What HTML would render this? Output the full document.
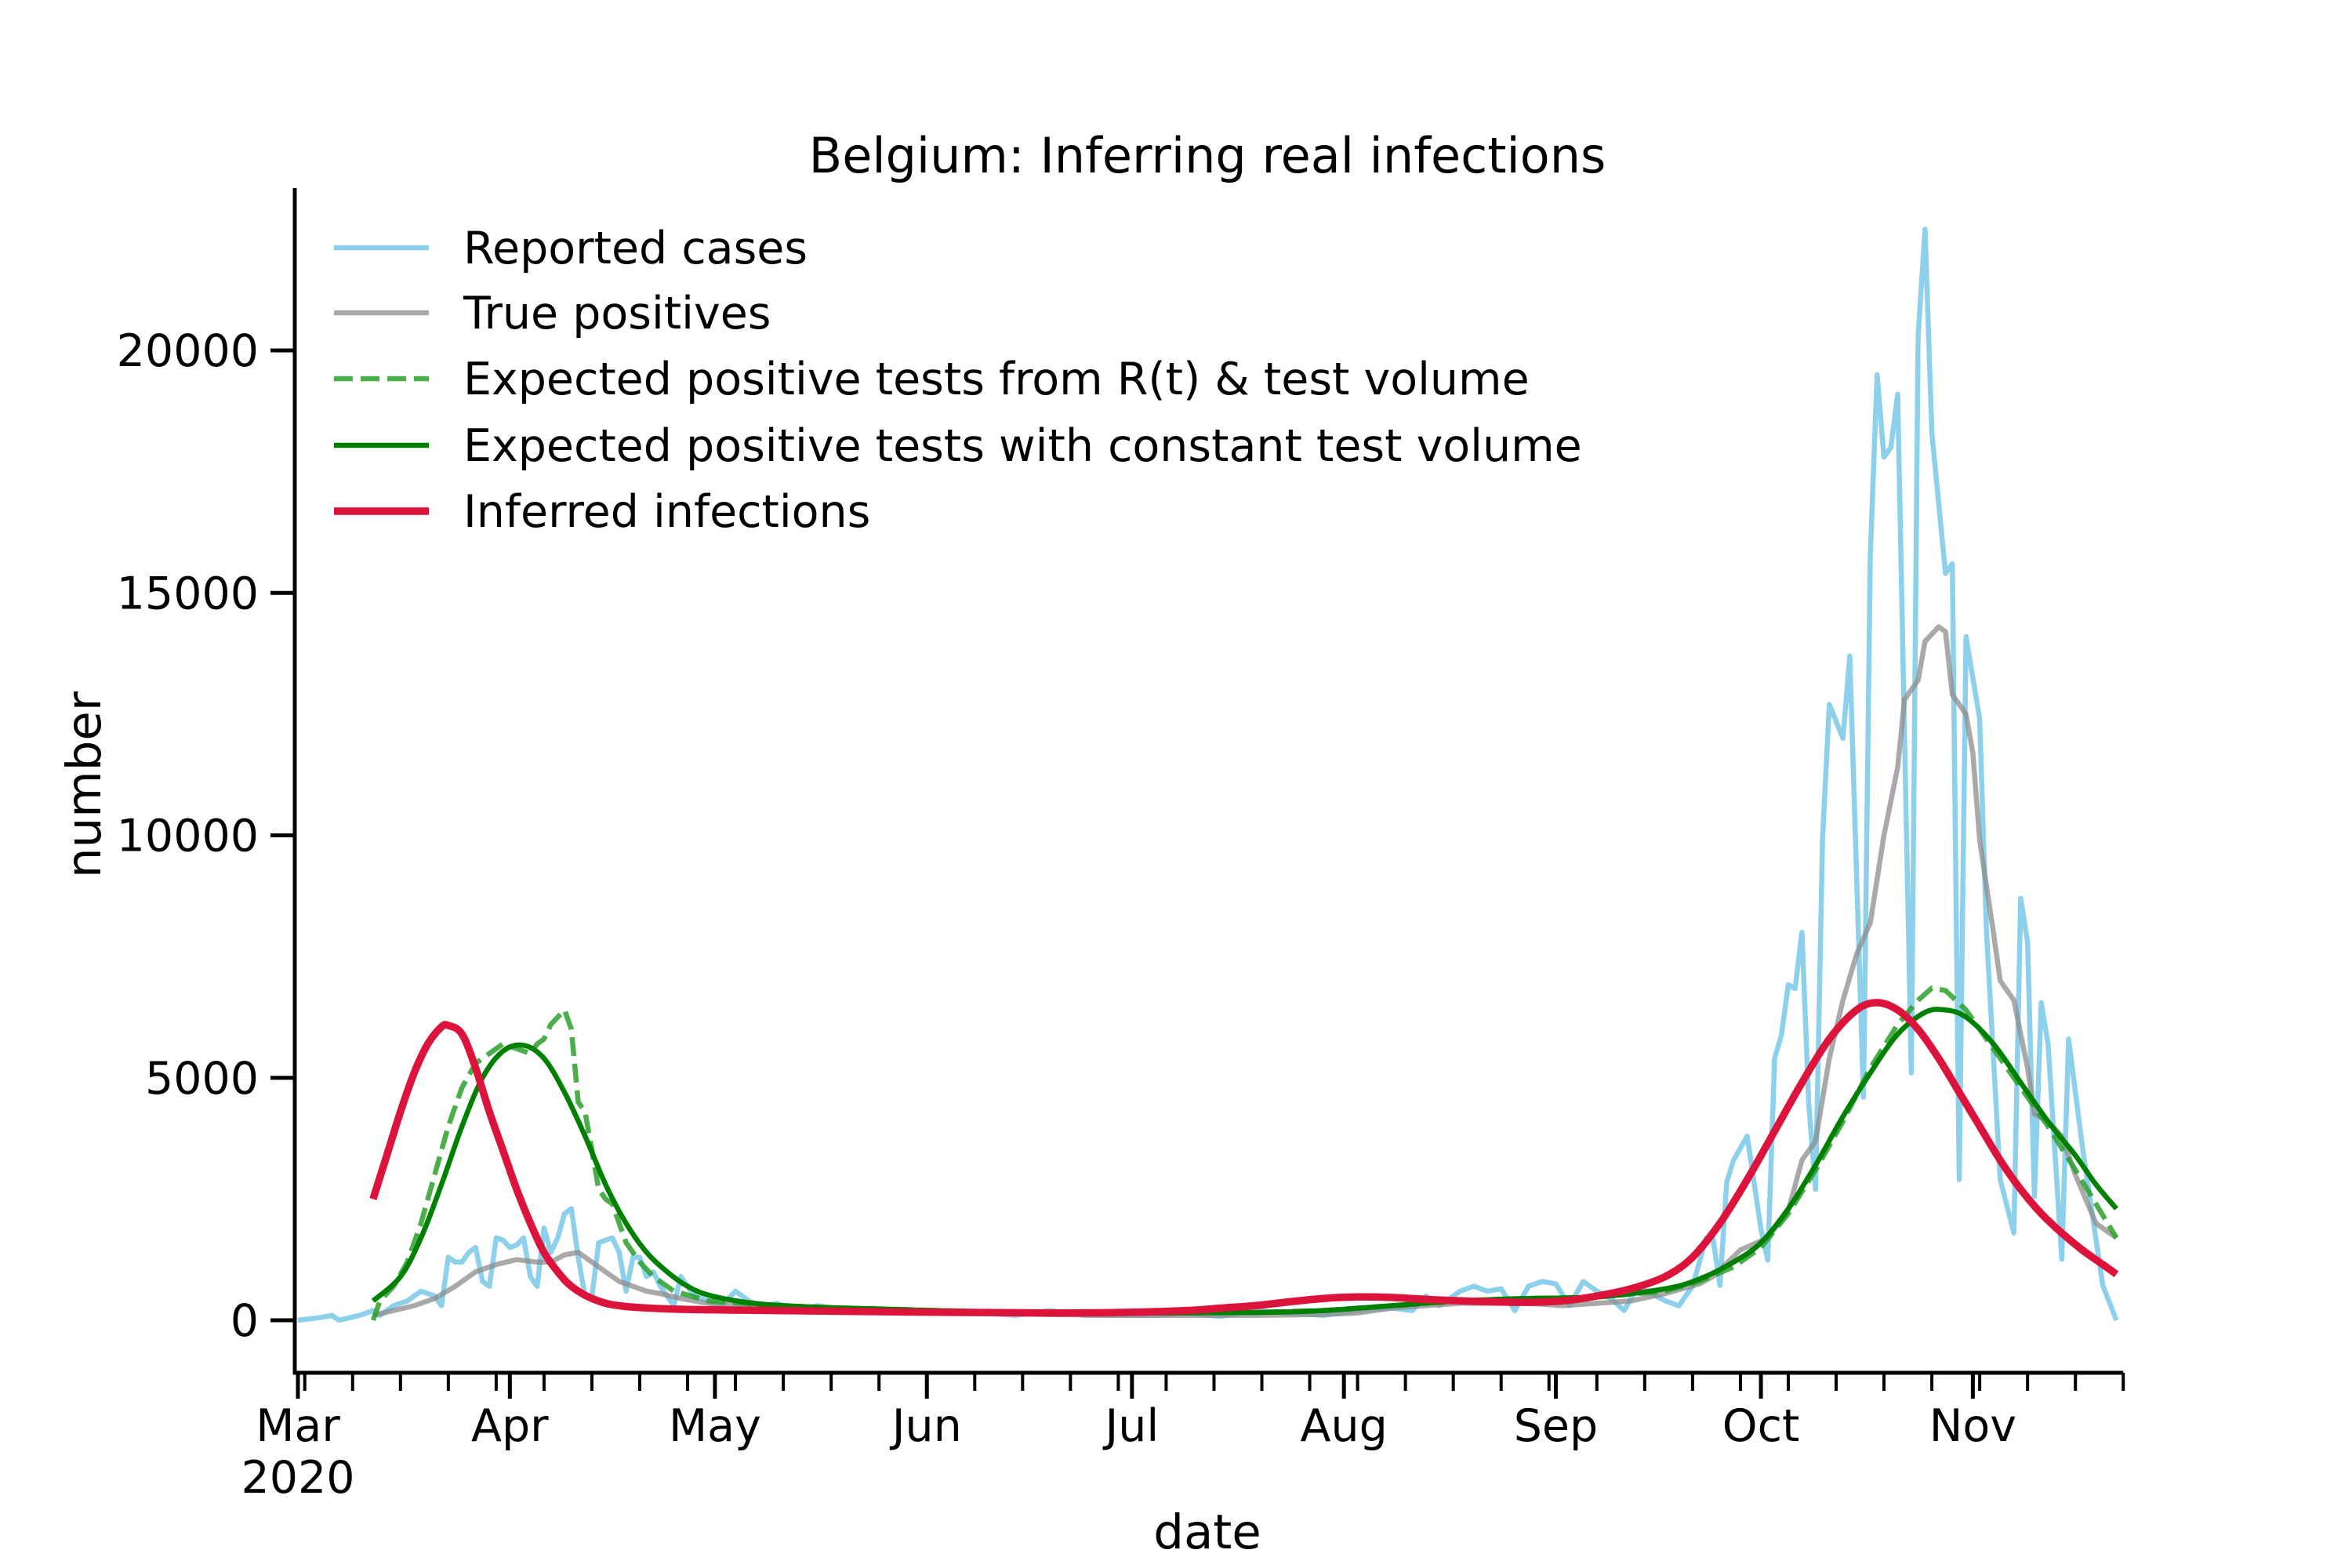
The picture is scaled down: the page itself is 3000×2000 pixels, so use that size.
<!DOCTYPE html>
<html><head><meta charset="utf-8"><style>
html,body{margin:0;padding:0;background:#fff;}
svg{display:block;font-family:"DejaVu Sans","Liberation Sans",sans-serif;}
</style></head><body>
<svg id="chart" width="3000" height="2000" viewBox="0 0 3000 2000" xmlns="http://www.w3.org/2000/svg">
<rect width="3000" height="2000" fill="#fff"/>
<text x="1540" y="220" font-size="62" text-anchor="middle">Belgium: Inferring real infections</text>
<g id="plot"></g>
<g id="axes"></g>
<text x="0" y="0" font-size="61" text-anchor="middle" transform="translate(128,1001) rotate(-90)">number</text>
<text x="1540" y="1975" font-size="61" text-anchor="middle">date</text>
<g id="legend"></g>
</svg>
<script>
// ---- data (day index: 0 = 1 Mar 2020) ----
const reportedDays = [0,3,5,6,9,11,12,14,16,18,20,21,22,23,24,25,26,27,28,29,30,31,32,33,34,35,36,37,38,39,40,41,42,43,44,45,46,47,48,49,50,51,52,53,54,55,56,57,58,60,62,64,66,68,70,73,76,80,84,88,92,96,100,105,110,115,120,125,130,135,140,145,150,155,160,163,165,167,170,172,174,176,178,180,182,184,186,188,190,192,194,196,198,200,202,204,206,207,208,209,210,212,214,215,216,217,218,219,220,221,222,223,224,226,227,229,230,231,232,233,234,236,237,238,239,241,242,243,244,246,247,249,251,252,253,254,255,256,258,259,261,264,266];
const reportedVals = [0,50,100,0,100,200,100,300,400,600,500,300,1300,1200,1200,1400,1500,800,700,1700,1650,1500,1550,1700,900,700,1900,1400,1700,2200,2300,1300,500,500,1600,1650,1700,1400,600,1300,1300,900,1000,700,500,300,900,700,500,400,300,600,400,250,350,200,300,200,250,150,200,150,150,100,200,100,100,100,150,80,200,150,100,200,250,200,500,300,600,700,600,650,200,700,800,750,300,800,600,450,200,700,550,400,300,700,1700,1680,720,2850,3300,3800,1880,1240,5400,5880,6920,6840,8000,4460,2700,9900,12700,12000,13700,4600,15800,19500,17800,18000,19100,5100,20300,22500,18300,15400,15600,2900,14100,12400,8000,2900,1800,8700,7800,2550,6550,5700,1260,5800,3600,720,0];
const trueDays = [11,14,17,20,23,26,29,32,35,37,39,41,43,45,47,49,51,53,56,60,65,70,80,90,100,110,120,130,140,150,155,160,165,170,175,180,185,190,195,200,205,207,211,215,218,220,222,224,226,228,230,232,234,235,237,238,240,241,242,244,245,246,248,249,251,253,254,256,258,260,263,266];
const trueVals = [100,200,300,450,700,1000,1150,1250,1200,1200,1350,1400,1200,1000,800,700,600,550,450,350,300,250,200,180,150,120,100,100,100,120,150,250,300,350,350,350,300,350,400,550,750,900,1450,1700,2260,3300,3700,5400,6600,7550,8200,10000,11400,12800,13200,14000,14300,14200,12900,12500,11700,9900,8000,7000,6600,5200,4260,4100,3800,3000,2000,1700];
const dashedDays = [11,12,14,16,18,20,22,24,26,28,30,32,34,35,36,37,39,40,41,42,43,44,45,46,47,48,50,52,55,60,70,80,100,120,140,150,160,170,180,190,200,205,210,214,218,222,226,230,234,237,239,241,244,248,252,256,260,263,266];
const dashedVals = [0,400,700,1200,2000,3000,4000,4800,5300,5500,5700,5600,5500,5700,5800,6100,6400,6000,4500,4300,3500,2700,2500,2400,2000,1600,1200,900,600,400,300,250,180,150,160,200,300,400,450,480,600,800,1100,1500,2200,3100,4100,5200,6100,6600,6850,6800,6400,5600,4800,4000,3100,2400,1700];
const constDays = [11,15,18,21,24,27,30,33,36,39,42,45,48,51,54,57,60,65,70,80,100,120,140,150,160,170,180,190,200,205,210,214,218,222,226,230,234,238,241,244,248,252,256,260,263,266];
const constVals = [400,900,1700,2800,4000,5000,5550,5670,5400,4700,3800,2800,2000,1400,1000,700,520,380,310,250,180,150,160,200,300,400,450,480,650,850,1200,1600,2300,3200,4200,5100,5900,6350,6400,6250,5700,4900,4100,3400,2800,2300];
const inferredDays = [11,13,15,17,19,21,22,24,26,28,30,32,34,36,38,40,43,47,55,70,90,110,120,130,135,140,145,150,155,160,165,170,175,180,185,190,195,200,204,208,212,216,220,224,228,231,234,237,240,243,246,249,252,255,258,261,264,266];
const inferredVals = [2500,3400,4300,5100,5700,6050,6080,5900,5200,4300,3500,2700,2000,1400,1000,700,450,300,230,200,170,150,160,200,250,300,380,450,480,470,430,400,380,370,400,500,650,900,1300,2000,2900,3900,4900,5800,6400,6550,6400,6000,5400,4700,4000,3300,2700,2200,1800,1450,1150,950];
const yTicks = [0,5000,10000,15000,20000];
const monthStarts = [0,31,61,92,122,153,184,214,245];
const monthLabels = ["Mar","Apr","May","Jun","Jul","Aug","Sep","Oct","Nov"];
const legendLabels = ["Reported cases","True positives","Expected positive tests from R(t) & test volume","Expected positive tests with constant test volume","Inferred infections"];

const NS="http://www.w3.org/2000/svg";
const X0=380, PXD=8.72, XMAX=267;
const Y0=1684, PXV=(1684-447)/20000;
const xs=d=>X0+d*PXD;
const ys=v=>Y0-v*PXV;
const L=376, R=xs(XMAX), T=240, B=1751;
function mk(tag,parent){const e=document.createElementNS(NS,tag);parent.appendChild(e);return e;}
const plot=document.getElementById('plot'), axes=document.getElementById('axes'), legend=document.getElementById('legend');

function pathFor(days,vals,smooth){
  const P=days.map((d,i)=>[xs(d),ys(vals[i])]);
  if(!smooth) return P.map((p,i)=>(i?'L':'M')+p[0].toFixed(1)+','+p[1].toFixed(1)).join('');
  let s='M'+P[0][0].toFixed(1)+','+P[0][1].toFixed(1);
  for(let i=0;i<P.length-1;i++){
    const p0=P[Math.max(0,i-1)],p1=P[i],p2=P[i+1],p3=P[Math.min(P.length-1,i+2)];
    const c1=[p1[0]+(p2[0]-p0[0])/6,p1[1]+(p2[1]-p0[1])/6];
    const c2=[p2[0]-(p3[0]-p1[0])/6,p2[1]-(p3[1]-p1[1])/6];
    s+='C'+c1[0].toFixed(1)+','+c1[1].toFixed(1)+' '+c2[0].toFixed(1)+','+c2[1].toFixed(1)+' '+p2[0].toFixed(1)+','+p2[1].toFixed(1);
  }
  return s;
}
function series(days,vals,color,w,opacity,dash,name,smooth){
  const p=mk('path',plot);
  
  
  p.setAttribute('d',pathFor(days,vals,smooth));
  p.setAttribute('fill','none');p.setAttribute('stroke',color);p.setAttribute('stroke-width',w);
  p.setAttribute('stroke-opacity',opacity);p.setAttribute('stroke-linejoin','round');
  if(dash)p.setAttribute('stroke-dasharray',dash);
}
series(reportedDays,reportedVals,'#87CEEB',6.5,0.95,null,'reported-cases-line',false);
series(trueDays,trueVals,'#8c8c8c',6.5,0.75,null,'true-positives-line',false);
series(dashedDays,dashedVals,'#2ca02c',6.5,0.85,'24,10','expected-tests-rt-line',false);
series(constDays,constVals,'#008000',6.5,1,null,'expected-tests-constant-line',true);
series(inferredDays,inferredVals,'#DC143C',9.5,1,null,'inferred-infections-line',true);

const ls=mk('line',axes);


ls.setAttribute('x1',L);ls.setAttribute('y1',T);ls.setAttribute('x2',L);ls.setAttribute('y2',B+2);ls.setAttribute('stroke','#000');ls.setAttribute('stroke-width',5);
const bs=mk('line',axes);


bs.setAttribute('x1',L-2);bs.setAttribute('y1',B);bs.setAttribute('x2',R);bs.setAttribute('y2',B);bs.setAttribute('stroke','#000');bs.setAttribute('stroke-width',5);

yTicks.forEach(v=>{
  const t=mk('line',axes);
  
  
  t.setAttribute('x1',L-31);t.setAttribute('x2',L);t.setAttribute('y1',ys(v));t.setAttribute('y2',ys(v));t.setAttribute('stroke','#000');t.setAttribute('stroke-width',5);
  const tx=mk('text',axes);
  
  
  tx.setAttribute('x',L-46);tx.setAttribute('y',ys(v)+20);tx.setAttribute('font-size','57');tx.setAttribute('text-anchor','end');
  tx.textContent=String(v);
});
for(let d=1; d<=XMAX+0.1; d+=7){
  const t=mk('line',axes);
  
  
  t.setAttribute('x1',xs(d));t.setAttribute('x2',xs(d));t.setAttribute('y1',B);t.setAttribute('y2',B+23);t.setAttribute('stroke','#000');t.setAttribute('stroke-width',4);
}
monthStarts.forEach((d,i)=>{
  const t=mk('line',axes);
  
  
  t.setAttribute('x1',xs(d));t.setAttribute('x2',xs(d));t.setAttribute('y1',B);t.setAttribute('y2',B+33);t.setAttribute('stroke','#000');t.setAttribute('stroke-width',5);
  const tx=mk('text',axes);
  
  
  tx.setAttribute('x',xs(d));tx.setAttribute('y',1838);tx.setAttribute('font-size','57');tx.setAttribute('text-anchor','middle');
  tx.textContent=monthLabels[i];
});
const yr=mk('text',axes);


yr.setAttribute('x',xs(0));yr.setAttribute('y',1904);yr.setAttribute('font-size','57');yr.setAttribute('text-anchor','middle');
yr.textContent='2020';

const legStyles=[['#87CEEB',6.5,0.95,null],['#8c8c8c',6.5,0.75,null],['#2ca02c',6.5,0.85,'24,10'],['#008000',6.5,1,null],['#DC143C',9.5,1,null]];
const legY=[316,399,483,568,652];
legendLabels.forEach((lab,i)=>{
  const s=legStyles[i];
  const ln=mk('line',legend);
  
  
  ln.setAttribute('x1',426);ln.setAttribute('x2',547);ln.setAttribute('y1',legY[i]);ln.setAttribute('y2',legY[i]);
  ln.setAttribute('stroke',s[0]);ln.setAttribute('stroke-width',s[1]);ln.setAttribute('stroke-opacity',s[2]);
  if(s[3])ln.setAttribute('stroke-dasharray',s[3]);
  const tx=mk('text',legend);
  
  
  tx.setAttribute('x',591);tx.setAttribute('y',legY[i]+20);tx.setAttribute('font-size','57');
  tx.textContent=lab;
});
</script>
</body></html>
